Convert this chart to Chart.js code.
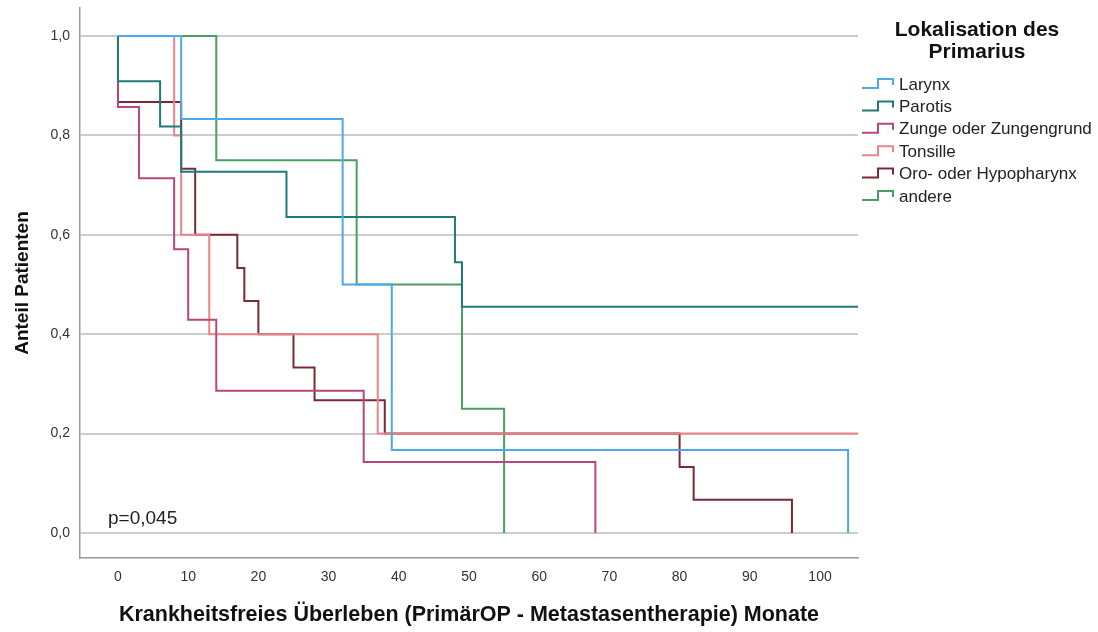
<!DOCTYPE html>
<html lang="de">
<head>
<meta charset="utf-8">
<title>Krankheitsfreies Überleben</title>
<script src="https://cdn.jsdelivr.net/npm/chart.js@4.4.1/dist/chart.umd.min.js"></script>
<style>
    html, body { margin: 0; padding: 0; background: #fff; }
    #wrap { width: 1098px; height: 632px; position: relative; }
</style>
</head>
<body>
<div id="wrap"><canvas id="kmChart" width="1098" height="632"></canvas></div>
<script>
// Kaplan-Meier steps: time (months) and survival proportion after that time
const larynxTime = [0, 9, 32, 39, 104];
const larynxSurv = [1, 0.833, 0.5, 0.167, 0];

const parotisTime = [0, 0, 6, 9, 24, 48, 49, 106];
const parotisSurv = [1, 0.909, 0.818, 0.727, 0.636, 0.545, 0.455, 0.455];

const zungeTime = [0, 0, 3, 8, 10, 14, 35, 68];
const zungeSurv = [1, 0.857, 0.714, 0.571, 0.429, 0.286, 0.143, 0];

const tonsilleTime = [0, 8, 9, 13, 37, 106];
const tonsilleSurv = [1, 0.8, 0.6, 0.4, 0.2, 0.2];

const oroTime = [0, 0, 9, 11, 17, 18, 20, 25, 28, 38, 80, 82, 96];
const oroSurv = [1, 0.867, 0.733, 0.6, 0.533, 0.467, 0.4, 0.333, 0.267, 0.2, 0.133, 0.067, 0];

const andereTime = [0, 14, 34, 49, 55];
const andereSurv = [1, 0.75, 0.5, 0.25, 0];

const groupNames = ['Larynx', 'Parotis', 'Zunge oder Zungengrund', 'Tonsille', 'Oro- oder Hypopharynx', 'andere'];
const groupColors = ['#4ea8ec', '#1f7a78', '#b8467c', '#f08388', '#7a2a34', '#4a9f62'];

const xTicks = [0, 10, 20, 30, 40, 50, 60, 70, 80, 90, 100];
const yTicks = [0, 0.2, 0.4, 0.6, 0.8, 1.0];

const pValueText = 'p=0,045';
const legendTitle = ['Lokalisation des', 'Primarius'];

const FONT = "'Liberation Sans', Arial, sans-serif";
const NARROW = "'Liberation Sans Narrow', 'Liberation Sans', Arial, sans-serif";

function toPoints(times, surv) {
    return times.map((t, i) => ({ x: t, y: surv[i] }));
}

const series = [
    toPoints(larynxTime, larynxSurv),
    toPoints(parotisTime, parotisSurv),
    toPoints(zungeTime, zungeSurv),
    toPoints(tonsilleTime, tonsilleSurv),
    toPoints(oroTime, oroSurv),
    toPoints(andereTime, andereSurv)
];

// legend with little step icons + p-value, drawn to the right of the plot
const kmExtras = {
    id: 'kmExtras',
    afterDraw(chart) {
        const ctx = chart.ctx;
        const area = chart.chartArea;
        ctx.save();

        ctx.fillStyle = '#222';
        ctx.font = '19px ' + FONT;
        ctx.textAlign = 'left';
        ctx.textBaseline = 'middle';
        ctx.fillText(pValueText, area.left + 28, 519);

        const centerX = 977;
        ctx.font = 'bold 21px ' + FONT;
        ctx.textAlign = 'center';
        ctx.fillStyle = '#111';
        legendTitle.forEach((line, i) => ctx.fillText(line, centerX, 30 + i * 22));

        ctx.font = '17px ' + FONT;
        ctx.textAlign = 'left';
        chart.data.datasets.forEach((ds, i) => {
            const y = 84 + i * 22.4;
            const x0 = area.right + 4;
            ctx.strokeStyle = ds.borderColor;
            ctx.lineWidth = 2;
            ctx.beginPath();
            ctx.moveTo(x0, y + 4);
            ctx.lineTo(x0 + 16, y + 4);
            ctx.lineTo(x0 + 16, y - 5);
            ctx.lineTo(x0 + 31, y - 5);
            ctx.lineTo(x0 + 31, y + 1);
            ctx.stroke();
            ctx.fillStyle = '#222';
            ctx.fillText(ds.label, x0 + 37, y + 1);
        });
        ctx.restore();
    }
};

const ctx = document.getElementById('kmChart').getContext('2d');
new Chart(ctx, {
    type: 'line',
    data: {
        datasets: series.map((pts, i) => ({
            label: groupNames[i],
            data: pts,
            borderColor: groupColors[i],
            backgroundColor: groupColors[i],
            borderWidth: 2,
            stepped: 'before',
            pointRadius: 0,
            fill: false,
            clip: 0
        }))
    },
    options: {
        responsive: false,
        animation: false,
        layout: { padding: { top: 8, right: 240, left: 0, bottom: 0 } },
        plugins: {
            legend: { display: false },
            tooltip: { enabled: false }
        },
        scales: {
            x: {
                type: 'linear',
                min: -5.41,
                max: 105.41,
                afterBuildTicks: scale => { scale.ticks = xTicks.map(v => ({ value: v })); },
                afterFit: scale => {
                    scale.height = 74;
                    scale.paddingLeft = 0;
                    scale.paddingRight = 0;
                },
                grid: { display: false, drawTicks: false },
                border: { display: true, color: '#9a9a9a', width: 1.5 },
                ticks: {
                    padding: 11,
                    color: '#333',
                    font: { family: NARROW, size: 14 },
                    maxRotation: 0
                },
                title: {
                    display: true,
                    text: 'Krankheitsfreies Überleben (PrimärOP - Metastasentherapie) Monate',
                    color: '#111',
                    font: { family: FONT, size: 21.5, weight: 'bold' },
                    padding: { top: 0, bottom: 4 }
                }
            },
            y: {
                min: -0.0503,
                max: 1.0563,
                afterBuildTicks: scale => { scale.ticks = yTicks.map(v => ({ value: v })); },
                afterFit: scale => {
                    scale.width = 80;
                    scale.paddingTop = 0;
                    scale.paddingBottom = 0;
                },
                grid: { color: '#cccccc', lineWidth: 2, drawTicks: false },
                border: { display: true, color: '#9a9a9a', width: 1.5 },
                ticks: {
                    padding: 10,
                    color: '#333',
                    font: { family: NARROW, size: 14 },
                    callback: v => v.toFixed(1).replace('.', ',')
                },
                title: {
                    display: true,
                    text: 'Anteil Patienten',
                    color: '#111',
                    font: { family: FONT, size: 19, weight: 'bold' },
                    padding: { top: 11, bottom: 0 }
                }
            }
        }
    },
    plugins: [kmExtras]
});
</script>
</body>
</html>
